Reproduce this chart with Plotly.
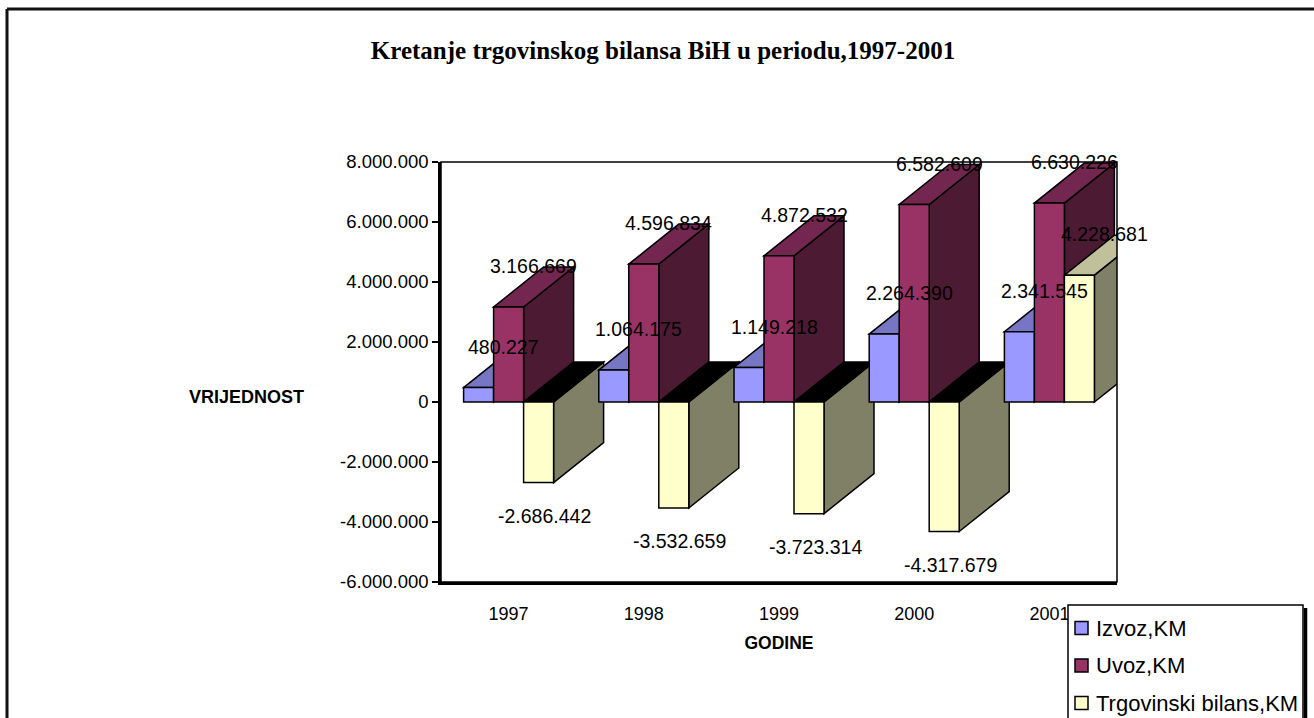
import plotly.graph_objects as go

# ---------------- data ----------------
years = ["1997", "1998", "1999", "2000", "2001"]
izvoz = [480227, 1064175, 1149218, 2264390, 2341545]
uvoz = [3166669, 4596834, 4872532, 6582609, 6630226]
bilans = [-2686442, -3532659, -3723314, -4317679, 4228681]
series_names = ["Izvoz,KM", "Uvoz,KM", "Trgovinski bilans,KM"]
y_tickvals = [-6000000, -4000000, -2000000, 0, 2000000, 4000000, 6000000, 8000000]

# ---------------- styles ----------------
front_colors = ["#9999FF", "#993366", "#FFFFCC"]
top_colors = ["#7676C4", "#73264F", "#C0C09A"]
side_colors = ["#4D4D80", "#4D1A33", "#808066"]
neg_top_color = "#000000"

W, H = 1314, 718
ML, MR, MT, MB = 441, 197, 162, 136
PW, PH = W - ML - MR, H - MT - MB
YMIN, YMAX = -6000000, 8000000
DX_PX, DY_PX = 50, 40
FONT = "Liberation Sans, Arial, sans-serif"


def fmt(v):
    s = f"{abs(int(v)):,}".replace(",", ".")
    return ("-" if v < 0 else "") + s


def px2paper_x(px):
    return (px - ML) / PW


def px2paper_y(py):
    return (H - MB - py) / PH


n = len(years)
cat_px = PW / n
bw = (90 / cat_px) / 3          # bar width in category units
dx = DX_PX / cat_px             # depth offset in category units
dy = DY_PX * (YMAX - YMIN) / PH  # depth offset in value units

all_series = [izvoz, uvoz, bilans]
xs = list(range(n))

fig = go.Figure()
shapes = []
annotations = []

for k, (name, vals) in enumerate(zip(series_names, all_series)):
    off = (k - 1.5) * bw
    fig.add_trace(go.Bar(
        x=xs, y=vals, name=name, width=bw, offset=off,
        marker=dict(color=front_colors[k], line=dict(color="black", width=1.5)),
        hoverinfo="x+y", showlegend=False,
    ))

# 3D faces (side + top) drawn in data coordinates, ordered left to right
for i in range(n):
    for k, vals in enumerate(all_series):
        v = vals[i]
        x0 = i + (k - 1.5) * bw
        x1 = x0 + bw
        side = f"M {x1},0 L {x1+dx},{dy} L {x1+dx},{v+dy} L {x1},{v} Z"
        shapes.append(dict(type="path", path=side, xref="x", yref="y",
                           fillcolor=side_colors[k], line=dict(color="black", width=1.5),
                           layer="below"))
        if v >= 0:
            top = f"M {x0},{v} L {x1},{v} L {x1+dx},{v+dy} L {x0+dx},{v+dy} Z"
            col = top_colors[k]
        else:
            top = f"M {x0},0 L {x1},0 L {x1+dx},{dy} L {x0+dx},{dy} Z"
            col = neg_top_color
        shapes.append(dict(type="path", path=top, xref="x", yref="y",
                           fillcolor=col, line=dict(color="black", width=1.5),
                           layer="below"))
        xc = x0 + bw / 2
        if v >= 0:
            annotations.append(dict(x=xc, y=v, xref="x", yref="y", text=fmt(v),
                                    showarrow=False, xshift=25, yshift=41,
                                    font=dict(family=FONT, size=19.5, color="black")))
        else:
            annotations.append(dict(x=xc, y=v, xref="x", yref="y", text=fmt(v),
                                    showarrow=False, xshift=6, yshift=-33,
                                    font=dict(family=FONT, size=19.5, color="black")))

# plot-area frame (top/right thin)
shapes.append(dict(type="rect", xref="paper", yref="paper", x0=0, x1=1, y0=0, y1=1,
                   line=dict(color="black", width=1.5), layer="above"))
# chart-area border (left and top)
shapes.append(dict(type="line", xref="paper", yref="paper",
                   x0=px2paper_x(7), x1=px2paper_x(1330), y0=px2paper_y(9), y1=px2paper_y(9),
                   line=dict(color="#111", width=3)))
shapes.append(dict(type="line", xref="paper", yref="paper",
                   x0=px2paper_x(7), x1=px2paper_x(7), y0=px2paper_y(9), y1=px2paper_y(740),
                   line=dict(color="#111", width=3)))

# ---------------- legend (box, swatches, labels) ----------------
LEG_L, LEG_T, LEG_R = 1068, 605, 1303
shapes.append(dict(type="rect", xref="paper", yref="paper",
                   x0=px2paper_x(LEG_L), x1=px2paper_x(LEG_R),
                   y0=px2paper_y(LEG_T), y1=px2paper_y(760),
                   fillcolor="white", line=dict(color="black", width=1.5), layer="above"))
shapes.append(dict(type="line", xref="paper", yref="paper",
                   x0=px2paper_x(LEG_R + 2.5), x1=px2paper_x(LEG_R + 2.5),
                   y0=px2paper_y(LEG_T + 3), y1=px2paper_y(760),
                   line=dict(color="black", width=3.5), layer="above"))
for k, name in enumerate(series_names):
    yc = 628 + k * 37.5
    shapes.append(dict(type="rect", xref="paper", yref="paper",
                       x0=px2paper_x(1075), x1=px2paper_x(1088),
                       y0=px2paper_y(yc + 6.5), y1=px2paper_y(yc - 6.5),
                       fillcolor=front_colors[k], line=dict(color="black", width=1.5),
                       layer="above"))
    annotations.append(dict(x=px2paper_x(1094), y=px2paper_y(yc), xref="paper", yref="paper",
                            xanchor="left", yanchor="middle", text=name, showarrow=False,
                            font=dict(family=FONT, size=22, color="black")))

# y axis title (horizontal)
annotations.append(dict(x=px2paper_x(247), y=px2paper_y(397), xref="paper", yref="paper",
                        xanchor="center", yanchor="middle",
                        text="<b>VRIJEDNOST</b>", showarrow=False,
                        font=dict(family=FONT, size=18, color="black")))

fig.update_layout(
    width=W, height=H,
    margin=dict(l=ML, r=MR, t=MT, b=MB, pad=0, autoexpand=False),
    paper_bgcolor="white", plot_bgcolor="white",
    barmode="group",
    title=dict(text="<b>Kretanje trgovinskog bilansa BiH u periodu,1997-2001</b>",
               x=px2paper_x(663), xref="paper", xanchor="center", y=1 - 50 / H, yanchor="middle",
               font=dict(family="Liberation Serif, Times New Roman, serif", size=25, color="black")),
    xaxis=dict(range=[-0.5, n - 0.5], tickvals=xs, ticktext=years,
               showline=True, linecolor="black", linewidth=2.5, ticks="",
               showgrid=False, zeroline=False, ticklabelstandoff=14,
               tickfont=dict(family=FONT, size=18, color="black"),
               title=dict(text="<b>GODINE</b>", standoff=14,
                          font=dict(family=FONT, size=17.5, color="black"))),
    yaxis=dict(range=[YMIN, YMAX], tickvals=y_tickvals, ticktext=[fmt(v) for v in y_tickvals],
               showline=True, linecolor="black", linewidth=2.5, ticks="outside",
               ticklen=6, tickwidth=2, tickcolor="black",
               showgrid=False, zeroline=False,
               tickfont=dict(family=FONT, size=18.5, color="black")),
    shapes=shapes,
    annotations=annotations,
    showlegend=False,
)

fig.write_html("out.html", config={"displayModeBar": False},
               post_script="document.body.style.margin='0';")
